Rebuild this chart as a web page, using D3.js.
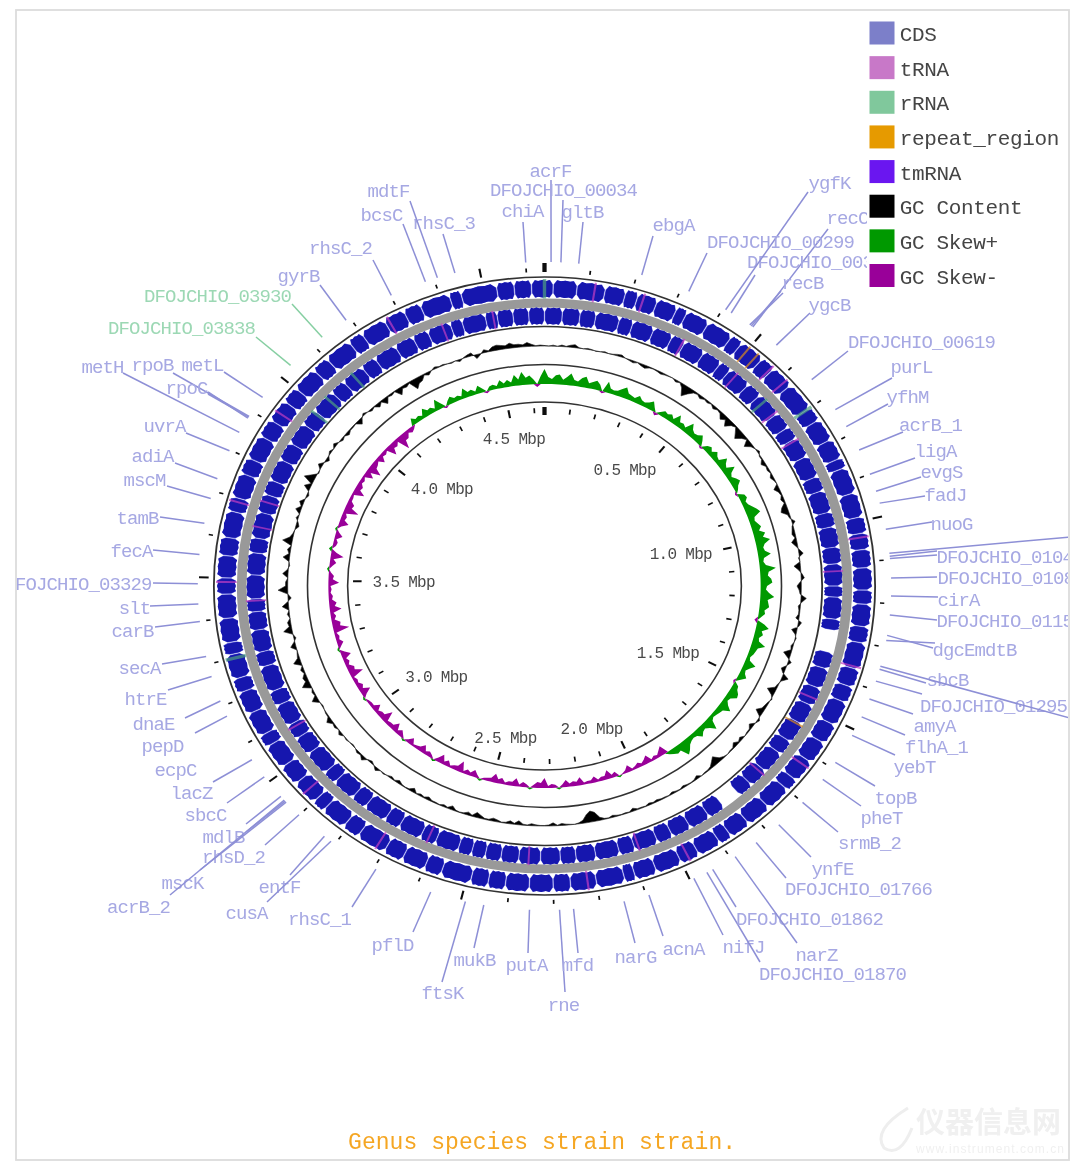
<!DOCTYPE html>
<html><head><meta charset="utf-8">
<style>html,body{margin:0;padding:0;background:#fff}svg{display:block}</style>
<script src="https://cdn.jsdelivr.net/npm/d3@7/dist/d3.min.js"></script>
</head><body>
<svg id="c" width="1080" height="1169"></svg>
<script>
// ---------- data ----------
const genomeMbp = 4.64;
const tickLabels = ["0.5 Mbp","1.0 Mbp","1.5 Mbp","2.0 Mbp","2.5 Mbp","3.0 Mbp","3.5 Mbp","4.0 Mbp","4.5 Mbp"];
const tickLabelMbp = [0.5,1.0,1.5,2.0,2.5,3.0,3.5,4.0,4.5];
const legendNames = ["CDS","tRNA","rRNA","repeat_region","tmRNA","GC Content","GC Skew+","GC Skew-"];
const legendColors = ["#7b7fc9","#c878c8","#80c89c","#e69a00","#6a19f0","#000000","#009900","#990099"];
const titleText = "Genus species strain strain.";

const forwardCDS = [0.02,0.075,0.14,0.187,0.216,0.262,0.31,0.335,0.39,0.452,0.48,0.54,0.575,0.63,0.70,0.735,0.79,0.84,0.865,0.93,0.99,1.03,1.07,1.115,1.17,1.205,1.26,1.30,1.365,1.41,1.45,1.51,1.56,1.615,1.67,1.70,1.76,1.82,1.87,1.90,1.955,2.00,2.06,2.11,2.135,2.20,2.26,2.30,2.355,2.41,2.45,2.49,2.56,2.60,2.655,2.70,2.77,2.81,2.87,2.90,2.96,3.01,3.07,3.10,3.16,3.215,3.25,3.31,3.34,3.40,3.46,3.50,3.555,3.60,3.665,3.70,3.76,3.80,3.86,3.905,3.96,4.0,4.06,4.10,4.165,4.20,4.26,4.31,4.35,4.42,4.447,4.53,4.57,4.61,4.66];
const reverseCDS = [0.0,0.045,0.09,0.13,0.19,0.225,0.28,0.33,0.365,0.42,0.47,0.50,0.56,0.60,0.665,0.71,0.745,0.80,0.86,0.90,0.96,1.0,1.055,1.10,1.16,1.19,1.25,1.28,1.34,1.385,1.44,1.49,1.545,1.60,1.64,1.70,1.75,1.79,1.84,1.885,1.94,1.99,2.03,2.09,2.13,2.19,2.24,2.28,2.33,2.385,2.43,2.47,2.505,2.54,2.60,2.64,2.70,2.74,2.80,2.84,2.90,2.935,3.0,3.05,3.09,3.15,3.19,3.26,3.30,3.36,3.41,3.445,3.51,3.57,3.61,3.68,3.73,3.77,3.83,3.88,3.94,3.985,4.05,4.09,4.15,4.19,4.25,4.30,4.34,4.40,4.43,4.49,4.52,4.56,4.60,4.64];
const reverseCDSGaps = [1.28,1.79];
const forwardTRNA = [0.116,0.23,0.615,0.57,1.04,1.36,1.63,1.98,2.22,2.72,2.93,3.49,3.69,3.93,4.27];
const reverseTRNA = [0.36,0.52,0.66,0.75,1.12,1.47,1.71,2.08,2.36,2.62,3.08,3.44,3.64,3.71,4.38,4.51];
const forwardRRNA = [0.0,0.70,3.3];
const reverseRRNA = [0.62,3.98,4.03,4.12];
const forwardRepeat = [0.525,0.50];
const reverseRepeat = [1.55];

// one value per 0.0125 Mbp
const gcContent = [.5,0,1,0,1.5,.5,2,3,.5,0,1,.5,-.5,0,1,0,.5,1.5,2,0,
 -1,-2,-.5,-2,-3,-1,-.5,-1,-2,-1,-.5,0,-2,-.5,-4,-11,-6,-2,-1,-3,
 -1,-2,-.5,-3,-1,-2,-6,-3,-8,-3,-1,-5,-9,-4,-1,-7,-2,0,2,-1,
 -1,-4,-1,-2,-.5,-3,-1,0,-5,-2,-1,-3,-1,-5,-7,-2,-1,3,-1,-2,
 -3,-1,-5,-2,1,4,-1,0,-6,-2,1,3,-1,-4,-2,-1,5,1,-2,-1,
 -1,-3,3,1,-5,-1,1,0,-2,-1,-7,-2,3,0,-4,-1,6,1,-1,-2,
 -8,-2,1,-1,-2,-3,-7,-1,2,0,-4,-1,-1,0,-3,-1,-4,-1,-1,0,
 -1,-3,-8,-5,-2,-1,-1,0,-3,-1,-.5,-1,-2,-.5,-1,-2,-.5,-1,-1,-2,
 -1,-2,-.5,-1,-1,-3,-.5,-1,-.5,-1,-2,-.5,-1,-3,-9,-11,-8,-3,-1,0,
 -.5,-1,-2,-.5,-3,-1,-.5,-.5,-1,-2,-.5,-1,-4,-1,-3,-1,-.5,-2,-3,-1,
 -1,-3,-5,-1,-3,-1,-.5,-1,-4,-1,-2,-.5,-1,-1,-3,-1,-2,-.5,-4,-1,
 -.5,-1,-3,-.5,-2,-.5,1,0,3,0,-2,-.5,4,1,2,0,-1,0,1,0,
 3,0,2,1,5,1,1,0,-1,0,6,1,2,0,8,3,4,1,3,0,
 7,2,1,0,5,1,-2,0,8,2,3,0,2,0,6,1,-3,0,9,2,
 2,0,5,1,-1,0,6,1,3,0,9,3,1,0,-3,-1,2,0,5,1,
 4,0,-2,0,6,1,10,4,-1,0,4,0,-3,0,2,0,3,0,-2,-.5,
 -3,-1,-1,-.5,-5,-1,2,0,-2,-.5,-4,-1,-6,-1,-2,-.5,-7,-2,-3,-1,
 -10,-6,-5,-1,-3,0,2,.5,1,0,-1,0,-2,.5,2,3,-4,-1,3,1,
 4,5,4,3,5,3,3,2,4,2,.5,1];
const gcSkew = [15,7,5,9,10,5,8,12,6,5,9,11,5,7,9,6,-2,11,5,4,
 5,8,11,6,5,4,8,5,4,6,9,4,-3,3,6,5,7,4,11,5,
 6,4,12,7,5,6,9,5,-2,5,7,4,8,5,4,11,7,5,12,6,
 4,7,9,5,3,-2,6,7,4,5,8,11,13,6,5,7,9,6,11,8,
 14,8,6,7,12,5,4,6,15,8,7,10,11,6,5,8,13,7,8,9,
 5,6,3,-3,7,12,6,8,5,6,13,7,6,5,3,4,11,7,4,5,
 8,4,-2,5,6,9,10,5,4,7,12,6,5,4,3,5,13,8,5,6,
 9,5,4,5,7,11,14,6,7,5,3,-9,-6,-3,-4,-2,-8,-5,-3,-5,
 -3,-2,-7,-3,-1,2,-5,-3,-9,-4,-4,-2,-6,-3,-3,-2,-8,-4,-5,-3,
 -7,-3,2,-3,-4,-2,-10,-5,-6,-3,2,-3,-5,-2,-8,-4,-4,-2,-6,-4,
 -9,-4,-3,-2,2,-3,-7,-3,-5,-2,-11,-5,-4,-2,-6,-3,-9,-4,2,-3,
 -5,-3,-8,-4,-3,-2,-7,-3,2,-3,-6,-3,-9,-4,-4,-3,-12,-5,-5,-3,
 -8,-3,-3,-2,2,-4,-10,-4,-6,-3,-4,-2,-13,-6,-7,-3,-5,-3,-9,-4,
 2,-3,-6,-3,-4,-2,-15,-7,-8,-3,-5,-3,-11,-5,-7,-3,-4,-2,-3,-2,
 -10,-4,-5,-2,2,-3,-6,-3,-12,-5,3,-3,-4,-2,-7,-3,2,-3,-9,-4,
 -5,-3,-14,-6,-7,-3,-3,-2,-11,-5,-6,-3,-4,-2,-9,-4,-13,-6,-5,-3,
 -8,-3,-4,-2,-11,-5,-6,-3,-15,-7,-7,-3,-5,-3,7,4,5,3,9,5,
 6,3,11,5,-2,4,7,4,5,3,10,5,6,3,8,4,-2,4,5,3,
 8,4,7,4,11,6,13,7,9,5,-3,8];

const geneNames = ["acrF","chiA","DFOJCHIO_00034","gltB","rhsC_3","bcsC","mdtF","rhsC_2","gyrB","DFOJCHIO_03930","DFOJCHIO_03838","metL","rpoB","rpoC","rpoC","metH","uvrA","adiA","mscM","tamB","fecA","DFOJCHIO_03329","slt","carB","secA","htrE","dnaE","pepD","ecpC","lacZ","sbcC","mdlB","rhsD_2","mscK","acrB_2","entF","cusA","rhsC_1","pflD","ftsK","mukB","putA","rne","mfd","narG","acnA","nifJ","DFOJCHIO_01870","DFOJCHIO_01862","narZ","DFOJCHIO_01766","ynfE","srmB_2","pheT","topB","yebT","flhA_1","amyA","DFOJCHIO_01295","sbcB","","dgcE","mdtB","DFOJCHIO_01150","cirA","DFOJCHIO_01080","DFOJCHIO_01040","","","nuoG","fadJ","evgS","ligA","acrB_1","yfhM","purL","DFOJCHIO_00619","ygcB","recC","recB","","DFOJCHIO_00300","ygfK","DFOJCHIO_00299","ebgA"];
const geneMbp = [0.014,4.600,0.035,0.073,4.447,4.381,4.408,4.302,4.190,4.126,4.033,3.939,3.887,3.885,3.882,3.845,3.798,3.729,3.682,3.624,3.552,3.485,3.439,3.399,3.318,3.271,3.212,3.175,3.062,3.015,2.958,2.944,2.901,2.941,2.947,2.828,2.810,2.695,2.567,2.490,2.450,2.352,2.288,2.258,2.149,2.094,1.991,1.960,1.946,1.890,1.835,1.772,1.700,1.632,1.585,1.514,1.467,1.423,1.380,1.352,1.345,1.273,1.285,1.226,1.183,1.142,1.092,1.097,1.085,1.030,0.969,0.941,0.900,0.840,0.780,0.735,0.650,0.541,0.476,0.472,0.468,0.420,0.406,0.317,0.210];
const rRNAGenes = ["DFOJCHIO_03930","DFOJCHIO_03838"];

// ---------- label placement (hand layout, not data): leader end x,y and text centre x,y ----------
const labelLayout = [
[551,180,551,171],[523,222,523,211],[563,200,564,190],[583,222,583,212],[443,234,444,223],[403,224,382,215],[410,201,389,191],[373,260,341,248],[320,285,299,276],[292,304,218,296],[256,337,182,328],
[224,372,203,365],[173,373,153,365],[208,394,187,388],[208,392,0,0],[123,373,103,367],[186,433,165,426],[175,463,153,456],[167,486,145,480],[160,517,138,518],[153,550,132,551],[153,583,78.5,584],[150,606,135,608],[155,627,133,631],[162,664,140,668],[168,690,146,699],[185,718,154,724],[195,733,163,746],
[213,782,176,770],[227,803,192,793],[246,824,206,815],[246,832,224,837],[265,845,234,857],[200,870,183,883],[170,895,139,907],[290,875,280,887],[267,902,247,913],[352,907,320,919],[413,932,393,945],[442,982,443,993],[474,948,475,960],[528,953,527,965],[565,992,564,1005],[578,953,578,965],
[635,943,636,957],[663,936,684,949],[723,935,744,947],[760,962,833,974],[736,907,810,919],[797,943,817,955],[786,878,859,889],[811,857,833,869],[838,832,870,843],[861,806,882,818],[875,786,896,798],[895,755,915,767],[905,735,937,747],[913,714,935,726],[922,694,994,706],[926,683,948,680],[1070,718,0,0],[933,648,954,650],[935,643,996,650],[937,620,1010.5,621],[938,597,959,600],[937,577,1011.5,578],[937,551,1010.5,557],[937,555,0,0],[1070,537,0,0],[932,522,952,524],[925,496,946,495],[921,477,942,472],[915,458,936,451],[903,432,931,425],[888,404,908,397],[892,378,912,367],[848,351,922,342],[810,313,830,305],[828,229,848,218],[781,291,803,283],[783,293,0,0],[755,275,821,262],[808,192,830,183],[707,253,781,242],[653,236,674,225]];

// ---------- layout & scales ----------
const W = 1080, H = 1169, CX = 544.5, CY = 586, ASPECT = 1.07;
const R = {outer:309, fwd:[288.5,306], grey:283, rev:[261.5,278.5], inner1:259.5, gc:240, ring2:221.5, skew:202, inner3:184};
const angle = d3.scaleLinear().domain([0, genomeMbp]).range([0, 2*Math.PI]);
const svg = d3.select("#c");
const defs = svg.append("defs");
defs.append("filter").attr("id","soft").attr("x","-2%").attr("y","-2%").attr("width","104%").attr("height","104%")
  .append("feGaussianBlur").attr("stdDeviation",0.6);
defs.append("filter").attr("id","softer").attr("filterUnits","userSpaceOnUse").attr("x",-400).attr("y",-400).attr("width",800).attr("height",800)
  .append("feGaussianBlur").attr("stdDeviation",0.7);
defs.append("clipPath").attr("id","frame").append("rect").attr("x",16).attr("y",10).attr("width",1052).attr("height",1150);

const FONT = "'Liberation Mono','DejaVu Sans Mono',monospace";
// fixed-pitch text: every glyph centred in its own cell
function cellText(sel, str, cx, cy, size, cell, fill, leftAligned){
  const x0 = leftAligned ? cx : cx - str.length*cell/2;
  const xs = Array.from(str,(c,i)=>(x0 + (i+.5)*cell).toFixed(1)).join(" ");
  return sel.append("text").attr("x",xs).attr("y",cy).attr("dy","0.34em").attr("text-anchor","middle")
    .attr("font-family",FONT).attr("font-size",size).attr("fill",fill).text(str);
}
function polar(mbp, r){
  const a = angle(mbp);
  return [CX + Math.sin(a)*r*ASPECT, CY - Math.cos(a)*r];
}

const root = svg.append("g").attr("filter","url(#soft)");
root.append("rect").attr("width",W).attr("height",H).attr("fill","#fff");

// ---------- leaders and labels ----------
const labels = root.append("g").attr("clip-path","url(#frame)");
geneNames.forEach((name,i)=>{
  const [lx,ly,tx,ty] = labelLayout[i];
  const green = rRNAGenes.includes(name);
  const [ix,iy] = polar(geneMbp[i], 324);
  labels.append("line").attr("x1",ix).attr("y1",iy).attr("x2",lx).attr("y2",ly)
    .attr("stroke",green?"#86cfa2":"#8d8fd6").attr("stroke-width",1.5);
  if(name && tx) cellText(labels,name,tx,ty,19,10.5,green?"#9cd8b4":"#a6a8e3");
});

// ---------- circular map ----------
const map = root.append("g").attr("transform",`translate(${CX},${CY}) scale(${ASPECT},1)`);
const circleAt = (r,w,col)=>map.append("circle").attr("r",r).attr("fill","none").attr("stroke",col).attr("stroke-width",w);
circleAt(R.grey,9,"#999999");
circleAt(R.outer,1.7,"#333");
circleAt(R.inner1,1.7,"#333");
circleAt(R.ring2,1.5,"#333");
circleAt(R.inner3,1.5,"#333");

// gene blocks: blobs of adjacent arrow-shaped genes, tapering at both ends
function blobs(bounds, radii, skip){
  const [r0,r1] = radii, mid=(r0+r1)/2, half=(r1-r0)/2;
  const area = d3.areaRadial().angle(d=>angle(d.m))
    .innerRadius(d=>mid-half*d.h).outerRadius(d=>mid+half*d.h);
  const blocks = d3.pairs(bounds).filter(p=>!skip.includes(p[0]));
  const shape = (a,b)=>{const w=b-a;return [
    {m:a,h:.5},{m:a+w*.14,h:1},{m:a+w*.3,h:.9},{m:a+w*.5,h:1},{m:a+w*.7,h:.9},{m:a+w*.86,h:1},{m:b,h:.5}];};
  const g = map.append("g").attr("filter","url(#softer)");
  g.append("g").selectAll("path").data(blocks).join("path")
    .attr("d",p=>area(shape(p[0]+0.0006,p[1]-0.0006))).attr("fill","#5a5cd6");
  g.append("g").selectAll("path").data(blocks).join("path")
    .attr("d",p=>area(shape(p[0]+0.002,p[1]-0.002))).attr("fill","#1212ae");
}
blobs(forwardCDS,R.fwd,[]);
blobs(reverseCDS,R.rev,reverseCDSGaps);

// small features
const featArc = d3.arc();
function features(list, radii, col, w){
  map.append("g").selectAll("path").data(list).join("path")
    .attr("d",m=>featArc({innerRadius:radii[0]-1,outerRadius:radii[1]+1,startAngle:angle(m-w),endAngle:angle(m+w)}))
    .attr("fill",col).attr("opacity",.7);
}
features(forwardTRNA,R.fwd,"#c23cc2",0.0025);
features(reverseTRNA,R.rev,"#c23cc2",0.0025);
features(forwardRRNA,R.fwd,"#4f9f80",0.004);
features(reverseRRNA,R.rev,"#4f9f80",0.0035);
features(forwardRepeat,R.fwd,"#d98a20",0.0025);
features(reverseRepeat,R.rev,"#d98a20",0.0025);

// GC content and skew, one point per window
const closeLoop = a=>a.concat(a[0]);
const stepGC = genomeMbp/gcContent.length, stepSk = genomeMbp/gcSkew.length;
const gcArea = d3.areaRadial().angle((d,i)=>angle(i*stepGC)).innerRadius(R.gc).outerRadius(d=>R.gc+d);
map.append("path").attr("d",gcArea(closeLoop(gcContent))).attr("fill","#000").attr("stroke","#222").attr("stroke-width",.6);
const skArea = d3.areaRadial().angle((d,i)=>angle(i*stepSk)).innerRadius(R.skew).outerRadius(d=>R.skew+d);
const sk = closeLoop(gcSkew);
map.append("path").attr("d",skArea(sk.map(v=>Math.max(0,v)))).attr("fill","#009900");
map.append("path").attr("d",skArea(sk.map(v=>Math.min(0,v)))).attr("fill","#990099");

// ticks
const tickVals = d3.range(0, genomeMbp, 0.1);
function tickMarks(r0minor, r1minor, r0major, r1major){
  map.append("g").selectAll("line").data(tickVals).join("line").each(function(v,i){
    const a = angle(v), maj = i%5===0, zero = i===0;
    const ra = maj?r0major:r0minor, rb = maj?r1major:r1minor;
    d3.select(this).attr("x1",Math.sin(a)*ra).attr("y1",-Math.cos(a)*ra)
      .attr("x2",Math.sin(a)*rb).attr("y2",-Math.cos(a)*rb)
      .attr("stroke","#111").attr("stroke-width",zero?4:(maj?2:1.6));
  });
}
tickMarks(314,318,314,323);
tickMarks(173,178,171,179);

tickLabels.forEach((t,i)=>{
  const a = angle(tickLabelMbp[i]);
  const [x,y] = polar(tickLabelMbp[i],150);
  const s = Math.sin(a);
  const ox = Math.abs(s)>0.3 ? -20*Math.sign(s) : 0;
  const oy = Math.cos(a)<-0.8 ? 6 : 0;
  cellText(root,t,x+ox,y+oy,16,8.9,"#4a4a4a");
});

// ---------- legend ----------
const legend = root.append("g");
legend.append("rect").attr("x",867).attr("y",12).attr("width",200).attr("height",285).attr("fill","#fff");
const legendY = d3.scaleLinear().domain([0,7]).range([33,275.5]);
legendNames.forEach((n,i)=>{
  legend.append("rect").attr("x",869.5).attr("y",legendY(i)-11.5).attr("width",25).attr("height",23).attr("fill",legendColors[i]);
  cellText(legend,n,900,legendY(i)+1,21,12.25,"#444",true);
});

// ---------- title, watermark, frame ----------
cellText(root,titleText,542,1141,23,13.86,"#f5a623");
const wm = root.append("g").attr("fill","#f0f0f0");
wm.append("text").attr("x",916).attr("y",1133).attr("font-family","'Noto Sans CJK SC'").attr("font-weight",700).attr("font-size",29).text("仪器信息网");
wm.append("text").attr("x",916).attr("y",1153).attr("font-family","'Liberation Sans'").attr("font-size",12).attr("textLength",148).text("www.instrument.com.cn");
const drop = d3.path();
drop.moveTo(908,1108); drop.quadraticCurveTo(872,1130,884,1148); drop.quadraticCurveTo(900,1158,912,1128);
root.append("path").attr("d",drop.toString()).attr("fill","none").attr("stroke","#eeeeee").attr("stroke-width",3);
root.append("rect").attr("x",16).attr("y",10).attr("width",1053).attr("height",1150).attr("fill","none").attr("stroke","#dcdcdc").attr("stroke-width",1.8);
</script>
</body></html>
